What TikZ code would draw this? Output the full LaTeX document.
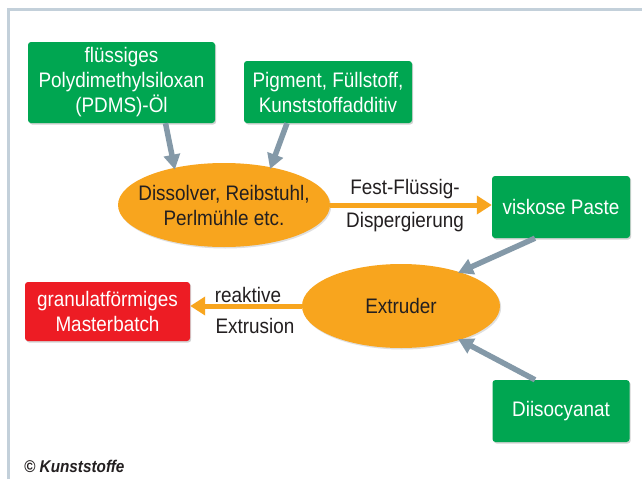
\documentclass[tikz,border=0pt]{standalone}
\usepackage{fontspec}
\setmainfont{Liberation Sans}[FakeStretch=0.9]
\usetikzlibrary{shapes.geometric,arrows.meta,shadows}
\definecolor{kgreen}{HTML}{00A651}
\definecolor{korange}{HTML}{F8A51E}
\definecolor{kred}{HTML}{ED1C24}
\definecolor{kgray}{HTML}{8499A8}
\definecolor{kframe}{HTML}{C3D0DA}
\definecolor{ktext}{HTML}{231F20}
\begin{document}
\begin{tikzpicture}[x=1pt,y=-1pt,
  every node/.style={font=\fontsize{21}{25}\selectfont, align=center, inner sep=0pt},
  boxstyle/.style={rounded corners=3pt, text=white,
     drop shadow={opacity=0.35, shadow xshift=1.2pt, shadow yshift=-1.5pt}},
  gbox/.style={boxstyle, fill=kgreen},
  rbox/.style={boxstyle, fill=kred},
  oell/.style={ellipse, fill=korange, text=ktext,
     drop shadow={opacity=0.25, shadow xshift=1.2pt, shadow yshift=-1.5pt}},
  garrow/.style={draw=kgray, line width=5.5pt, -{Triangle[length=15pt,width=16pt]}, shorten >=-2pt},
  oarrow/.style={draw=korange, line width=5pt, -{Triangle[length=15pt,width=18pt]}},
  lbl/.style={text=ktext}
]
\useasboundingbox (0,0) rectangle (642,479);
\fill[white] (0,0) rectangle (642,479);
\draw[kframe, line width=3pt] (8.5,479) -- (8.5,9.5) -- (642,9.5);

\node[gbox, minimum width=187pt, minimum height=81pt] (pdms) at (121.5,82.5)
  {flüssiges\\Polydimethylsiloxan\\(PDMS)-Öl};
\node[gbox, minimum width=168pt, minimum height=62pt] (pig) at (328,92)
  {Pigment, Füllstoff,\\Kunststoffadditiv};
\node[oell, inner xsep=-14pt, minimum width=212pt, minimum height=84pt] (diss) at (224,205)
  {Dissolver, Reibstuhl,\\Perlmühle etc.};
\node[gbox, minimum width=138pt, minimum height=62pt] (paste) at (561,207)
  {viskose Paste};
\node[oell, minimum width=198pt, minimum height=84pt] (extr) at (401,306)
  {Extruder};
\node[rbox, minimum width=165pt, minimum height=59pt] (master) at (107.5,311.5)
  {granulatförmiges\\Masterbatch};
\node[gbox, minimum width=137pt, minimum height=62pt] (diiso) at (561,411)
  {Diisocyanat};

\draw[garrow] ([xshift=44pt]pdms.south) -- (diss.143);
\draw[garrow] ([xshift=-41pt]pig.south) -- (diss.39);
\draw[garrow] ([xshift=-26pt]paste.south) -- (extr.30);
\draw[garrow] ([xshift=-26pt]diiso.north) -- (extr.-30);

\draw[oarrow] (diss.east) -- (diss.east -| paste.west);
\draw[oarrow] (extr.west) -- (extr.west -| master.east);

\node[lbl] (l1) at (405,189) {Fest-Flüssig-};
\node[lbl] (l2) at (405,222) {Dispergierung};
\node[lbl] (l3) at (248,295) {reaktive};
\node[lbl] (l4) at (255,326) {Extrusion};

\node[anchor=west, text=ktext, font=\fontsize{17}{19}\selectfont\bfseries\itshape] (copy) at (24,466) {© Kunststoffe};
\end{tikzpicture}
\end{document}
